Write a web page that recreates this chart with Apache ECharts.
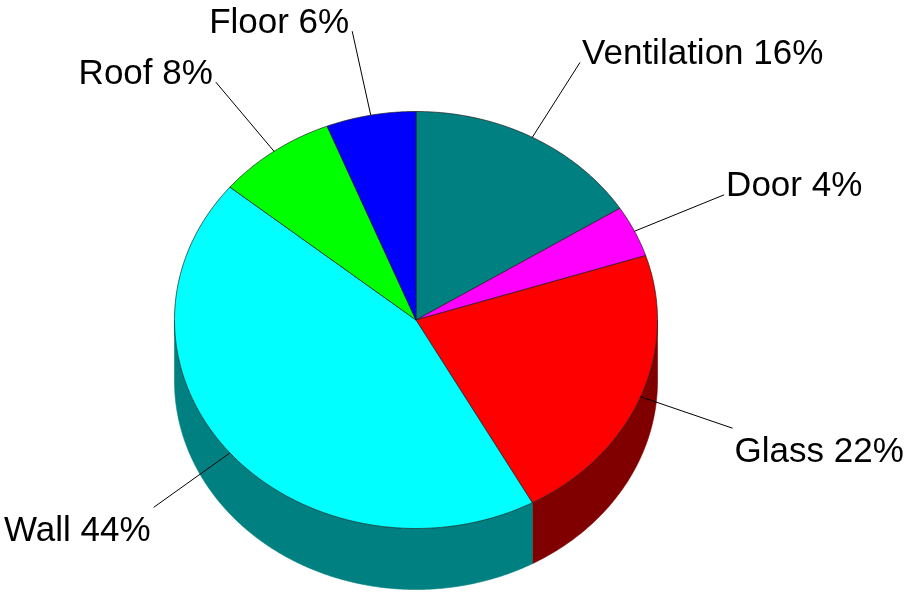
<!DOCTYPE html>
<html>
<head>
<meta charset="utf-8">
<script src="https://cdn.jsdelivr.net/npm/echarts@6/dist/echarts.min.js"></script>
<style>
  html, body { margin: 0; padding: 0; background: #ffffff; }
  #chart { width: 910px; height: 593px; }
</style>
</head>
<body>
<div id="chart"></div>
<script>
// Heat-loss breakdown, percent of total
const categories = ['Ventilation', 'Door', 'Glass', 'Wall', 'Roof', 'Floor'];
const shares = [16, 4, 22, 44, 8, 6];
const topColors = ['#008080', '#FF00FF', '#FF0000', '#00FFFF', '#00FF00', '#0000FF'];
const sideColors = ['#004040', '#800080', '#800000', '#008080', '#008000', '#000080'];

// drawing constants
const DEPTH = 61;          // thickness of the disc, pixels
const LEADER_SCALE = 1.41; // leader lines end on a rim this many times the pie radius
const FONT = "'Liberation Sans', Arial, Helvetica, sans-serif";

// start / end angle of each slice, clockwise from 12 o'clock
const total = shares.reduce((a, b) => a + b, 0);
const sliceData = [];
let acc = 0;
shares.forEach((v, i) => {
  const a0 = acc / total * Math.PI * 2;
  acc += v;
  const a1 = acc / total * Math.PI * 2;
  sliceData.push({ name: categories[i], value: [a0, a1, v] });
});

// point on a rim of radius r at angle a, in axis units (y up)
function rim(a, r) { r = r || 1; return [r * Math.sin(a), r * Math.cos(a)]; }

function arcPoints(api, s, e) {
  const n = Math.max(2, Math.ceil((e - s) / (Math.PI / 360)));
  const pts = [];
  for (let k = 0; k <= n; k++) {
    pts.push(api.coord(rim(s + (e - s) * k / n)));
  }
  return pts;
}

// outer wall: only the front half of the rim is visible
function renderSide(params, api) {
  const a0 = api.value(0), a1 = api.value(1);
  const s = Math.max(a0, Math.PI / 2), e = Math.min(a1, Math.PI * 1.5);
  if (e <= s) return { type: 'group', children: [] };
  const upper = arcPoints(api, s, e);
  const lower = upper.map(p => [p[0], p[1] + DEPTH]).reverse();
  const c = sideColors[params.dataIndex];
  return {
    type: 'polygon',
    shape: { points: upper.concat(lower) },
    style: { fill: c, stroke: c, lineWidth: 0.6 }
  };
}

// top face of each slice
function renderTop(params, api) {
  const a0 = api.value(0), a1 = api.value(1);
  const centre = api.coord([0, 0]);
  const pts = [centre].concat(arcPoints(api, a0, a1));
  return {
    type: 'polygon',
    shape: { points: pts },
    style: { fill: topColors[params.dataIndex], stroke: '#1e1e1e', lineWidth: 0.7 }
  };
}

// leader line plus "Name NN%" label
function renderLabel(params, api) {
  const a0 = api.value(0), a1 = api.value(1), v = api.value(2);
  const m = (a0 + a1) / 2;
  const p0 = api.coord(rim(m));
  const p1 = api.coord(rim(m, LEADER_SCALE));
  const right = Math.sin(m) > 0;
  const upper = Math.cos(m) > 0;
  const baseline = upper ? p1[1] + 2 : p1[1] + 34;
  return {
    type: 'group',
    children: [
      {
        type: 'line',
        shape: { x1: p0[0], y1: p0[1], x2: p1[0], y2: p1[1] },
        style: { stroke: '#000000', lineWidth: 1 }
      },
      {
        type: 'text',
        x: right ? p1[0] + 2 : p1[0] - 3,
        y: baseline - 10,
        style: {
          text: categories[params.dataIndex] + ' ' + v + '%',
          fill: '#000000',
          font: '35px ' + FONT,
          align: right ? 'left' : 'right',
          verticalAlign: 'middle'
        }
      }
    ]
  };
}

const chart = echarts.init(document.getElementById('chart'), null, { renderer: 'canvas' });
chart.setOption({
  backgroundColor: '#ffffff',
  animation: false,
  grid: { left: 174.5, top: 111.5, width: 483, height: 417, show: false },
  xAxis: { type: 'value', min: -1, max: 1, show: false },
  yAxis: { type: 'value', min: -1, max: 1, show: false },
  series: [
    { type: 'custom', name: 'side', clip: false, z: 1, silent: true,
      encode: { x: 0, y: 1 }, renderItem: renderSide, data: sliceData },
    { type: 'custom', name: 'top', clip: false, z: 2, silent: true,
      encode: { x: 0, y: 1 }, renderItem: renderTop, data: sliceData },
    { type: 'custom', name: 'labels', clip: false, z: 3, silent: true,
      encode: { x: 0, y: 1 }, renderItem: renderLabel, data: sliceData }
  ]
});
</script>
</body>
</html>
